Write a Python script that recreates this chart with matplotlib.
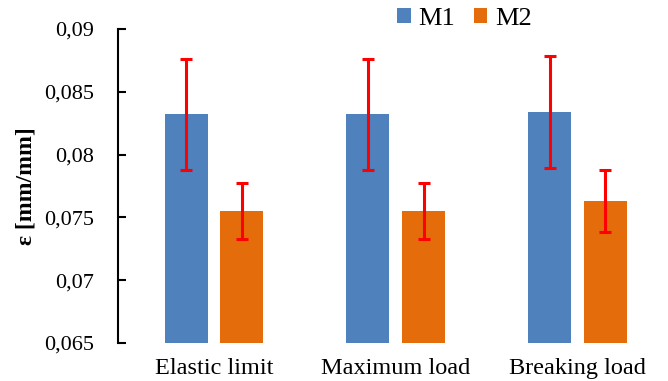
import matplotlib
matplotlib.use("Agg")
import matplotlib.pyplot as plt
import numpy as np
from matplotlib.ticker import FuncFormatter

categories = ["Elastic limit", "Maximum load", "Breaking load"]
series_names = ["M1", "M2"]
m1_values = [0.0832, 0.0832, 0.0834]
m1_errors = [0.00445, 0.00445, 0.00447]
m2_values = [0.0755, 0.0755, 0.0763]
m2_errors = [0.00223, 0.00223, 0.00247]
y_ticks = [0.065, 0.07, 0.075, 0.08, 0.085, 0.09]

plt.rcParams['font.family'] = ['Liberation Serif', 'DejaVu Serif']

fig = plt.figure(figsize=(6.68, 3.81), dpi=100)
ax = fig.add_axes([118/668, 38/381, 550/668, 314/381])

x = np.arange(len(categories))
w = 0.237
off = 0.153
ax.bar(x - off, m1_values, w, color="#4F81BD", label=series_names[0], zorder=2)
ax.bar(x + off, m2_values, w, color="#E46C0A", label=series_names[1], zorder=2)
ekw = dict(fmt="none", ecolor="#FF0000", elinewidth=2.2, capsize=4.3, capthick=2.2, zorder=3)
ax.errorbar(x - off, m1_values, yerr=m1_errors, **ekw)
ax.errorbar(x + off, m2_values, yerr=m2_errors, **ekw)

ax.set_ylim(0.065, 0.09)
ax.set_xlim(-0.528, 2.498)
ax.set_yticks(y_ticks)
ax.yaxis.set_major_formatter(FuncFormatter(lambda v, p: ("%g" % round(v, 4)).replace(".", ",")))
ax.tick_params(axis='y', direction='in', length=6, width=1.5, labelsize=16, pad=17)
ax.set_xticks(x)
ax.set_xticklabels(categories)
ax.tick_params(axis='x', length=0, labelsize=17.5, pad=11)
for s in ["top", "right", "bottom"]:
    ax.spines[s].set_visible(False)
ax.spines["left"].set_linewidth(1.5)
ax.set_ylabel("ε [mm/mm]", fontsize=17, fontweight="bold", labelpad=6)

ax.legend(loc="upper center", bbox_to_anchor=(0.63, 1.1), ncol=2, frameon=False,
          fontsize=19, handlelength=0.5, handleheight=0.5, handletextpad=0.3,
          columnspacing=0.7, borderaxespad=0)

fig.savefig("out.png", dpi=100)
